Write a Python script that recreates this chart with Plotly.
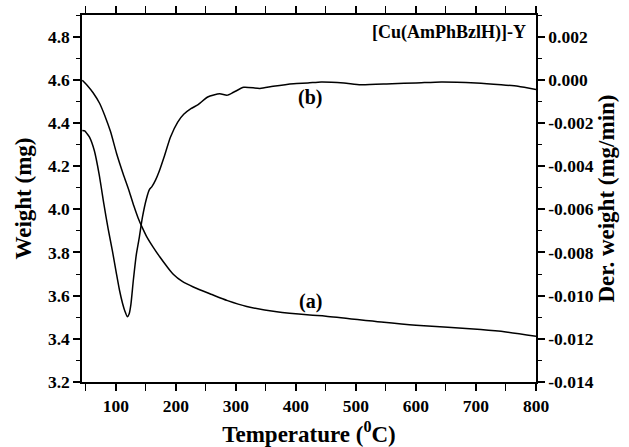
import plotly.graph_objects as go

# TGA curve (a): temperature (°C) vs weight (mg)
tga_temp = [44, 52, 62, 73, 82, 91, 101, 112, 122, 130, 137, 144, 151, 162, 173, 185,
            196, 210, 229, 260, 286, 318, 368, 423, 450, 542, 600, 708, 750, 800]
tga_weight = [4.598, 4.575, 4.54, 4.49, 4.43, 4.36, 4.26, 4.165, 4.085, 4.015, 3.96,
              3.915, 3.875, 3.825, 3.78, 3.735, 3.698, 3.667, 3.64, 3.605, 3.577, 3.55,
              3.525, 3.51, 3.505, 3.478, 3.463, 3.443, 3.432, 3.412]

# DTG curve (b): temperature (°C) vs derivative weight (mg/min)
dtg_temp = [44, 48, 52, 56, 64, 72, 80, 87, 94, 101, 106, 111, 115, 119, 122, 125, 129,
            134, 139, 144, 151, 156, 160, 166, 172, 180, 191, 203, 213, 225, 237, 253,
            273, 285, 296, 313, 340, 362, 396, 420, 442, 480, 508, 560, 600, 642, 700,
            742, 770, 800]
dtg_deriv = [-0.00235, -0.00237, -0.00250, -0.00266, -0.00328, -0.00437, -0.00576,
             -0.00690, -0.00790, -0.00900, -0.00975, -0.01035, -0.01072, -0.01098,
             -0.01085, -0.01040, -0.00930, -0.00810, -0.00730, -0.00640, -0.00550,
             -0.00508, -0.00495, -0.00465, -0.00425, -0.00360, -0.00265, -0.00196,
             -0.00160, -0.00134, -0.00115, -0.00080, -0.00065, -0.00072, -0.00058,
             -0.00035, -0.00040, -0.00030, -0.00018, -0.00015, -0.00010, -0.00015,
             -0.00023, -0.00018, -0.00015, -0.00010, -0.00015, -0.00023, -0.00030,
             -0.00045]

x_ticks = [100, 200, 300, 400, 500, 600, 700, 800]
y_left_ticks = [3.2, 3.4, 3.6, 3.8, 4.0, 4.2, 4.4, 4.6, 4.8]
y_right_ticks = [-0.014, -0.012, -0.010, -0.008, -0.006, -0.004, -0.002, 0.000, 0.002]

FONT = "Liberation Serif"
tickfont = dict(family=FONT, size=17.5, color="black", weight="bold")
titlefont = dict(family=FONT, size=23, color="black", weight="bold")
labelfont = dict(family=FONT, size=20, color="black", weight="bold")

fig = go.Figure()
fig.add_trace(go.Scatter(x=tga_temp, y=tga_weight, mode="lines",
                         line=dict(color="black", width=1.5, shape="spline", smoothing=0.8),
                         showlegend=False, hoverinfo="skip"))
fig.add_trace(go.Scatter(x=dtg_temp, y=dtg_deriv, mode="lines", yaxis="y2",
                         line=dict(color="black", width=1.5, shape="spline", smoothing=0.6),
                         showlegend=False, hoverinfo="skip"))

axis_common = dict(showline=True, linecolor="black", linewidth=1.5, ticks="outside",
                   ticklen=7, tickwidth=1.5, tickcolor="black", showgrid=False,
                   zeroline=False, tickfont=tickfont, automargin=False)
minor_common = dict(ticks="outside", ticklen=4, tickcolor="black", tickwidth=1.2, showgrid=False)

fig.update_layout(
    width=629, height=447,
    margin=dict(l=82, r=93, t=15, b=65),
    paper_bgcolor="white", plot_bgcolor="white",
    xaxis=dict(range=[43.5, 800], tickvals=x_ticks, mirror="allticks",
               minor=dict(dtick=50, tick0=0, **minor_common),
               title=dict(text="Temperature (<sup>0</sup>C)", font=titlefont, standoff=12),
               **axis_common),
    yaxis=dict(range=[3.2, 4.9], tickvals=y_left_ticks, ticktext=[f"{v:.1f}" for v in y_left_ticks],
               minor=dict(dtick=0.1, tick0=3.2, **minor_common),
               title=dict(text="Weight (mg)", font=titlefont, standoff=10),
               **axis_common),
    yaxis2=dict(range=[-0.014, 0.003], overlaying="y", side="right", anchor="x",
                tickvals=y_right_ticks, ticktext=[f"{v:.3f}" for v in y_right_ticks],
                minor=dict(dtick=0.001, tick0=-0.014, **minor_common),
                title=dict(text="Der. weight (mg/min)", font=titlefont, standoff=4),
                **axis_common),
    annotations=[
        dict(text="[Cu(AmPhBzlH)]-Y", xref="paper", yref="paper", x=0.983, y=0.951,
             xanchor="right", yanchor="middle", showarrow=False,
             font=dict(family=FONT, size=18, color="black", weight="bold")),
        dict(text="(b)", xref="x", yref="y", x=424, y=4.52, showarrow=False, font=labelfont),
        dict(text="(a)", xref="x", yref="y", x=424, y=3.575, showarrow=False, font=labelfont),
    ],
)

fig.write_html("out.html", config={"displayModeBar": False},
               post_script="document.body.style.margin='0';document.body.style.overflow='hidden';")
